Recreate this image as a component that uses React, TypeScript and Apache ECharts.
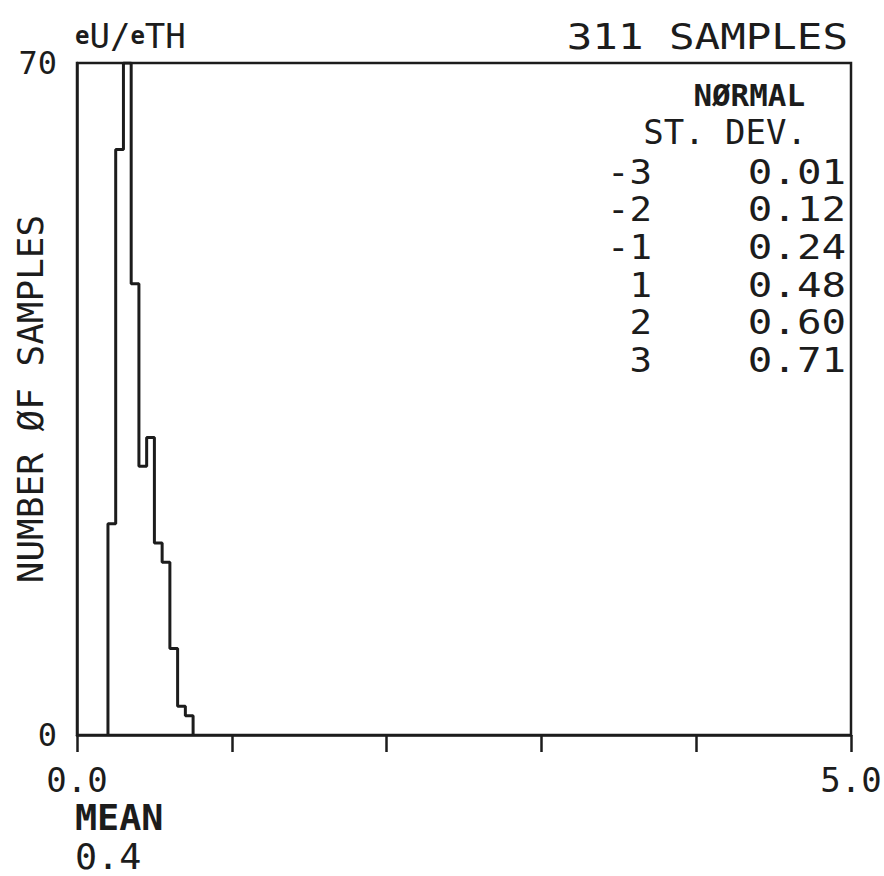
import React, { useEffect, useRef } from "react";
import * as echarts from "echarts";

// Histogram data (eU/eTH ratio, 311 samples)
const binLefts = [0.2, 0.25, 0.3, 0.35, 0.4, 0.45, 0.5, 0.55, 0.6, 0.65, 0.7];
const binWidth = 0.05;
const counts = [22, 61, 70, 47, 28, 31, 20, 18, 9, 3, 2];

const xTickLabels = ["0.0", "5.0"];
const sdLevels = ["-3", "-2", "-1", "1", "2", "3"];
const sdValues = ["0.01", "0.12", "0.24", "0.48", "0.60", "0.71"];

const INK = "#1c1c1c";
const FONT = "DejaVu Sans Mono";

export default function App() {
  const ref = useRef<HTMLDivElement>(null);
  useEffect(() => {
    if (!ref.current) return;
    const chart = echarts.init(ref.current, null, { renderer: "svg" });

    const pts: number[][] = [];
    pts.push([binLefts[0], 0]);
    binLefts.forEach((l, i) => {
      pts.push([l, counts[i]]);
      pts.push([+(l + binWidth).toFixed(3), counts[i]]);
    });
    pts.push([+(binLefts[binLefts.length - 1] + binWidth).toFixed(3), 0]);

    const txt = (
      text: string,
      x: number,
      y: number,
      size: number,
      align: string,
      scaleX = 1,
      weight: string = "normal"
    ) => ({
      type: "text",
      x,
      y,
      scaleX,
      style: {
        text,
        fontSize: size,
        fontFamily: FONT,
        fontWeight: weight,
        fill: INK,
        textAlign: align,
        textVerticalAlign: "middle",
      },
    });

    const graphics: any[] = [
      {
        type: "text",
        x: 75,
        y: 36,
        scaleX: 1.0,
        style: {
          text: "{s|e}U/{s|e}TH",
          rich: {
            s: { fontSize: 24, fontFamily: FONT, fill: INK, fontWeight: "bold" },
          },
          fontSize: 34,
          fontFamily: FONT,
          fill: INK,
          textAlign: "left",
          textVerticalAlign: "middle",
        },
      },
      txt("311 SAMPLES", 848, 36, 36, "right", 1.18),
      txt("NØRMAL", 805, 96, 30, "right", 1.03, "bold"),
      txt("ST. DEV.", 807, 132, 34, "right", 1.0),
      txt("MEAN", 75, 818, 35, "left", 1.05, "bold"),
      txt("0.4", 75, 857, 35, "left", 1.05),
    ];
    sdLevels.forEach((lv, i) => {
      const y = 172 + i * 37.6;
      graphics.push(txt(lv, 652, y, 34, "right", 1.1));
      graphics.push(txt(sdValues[i], 846, y, 34, "right", 1.2));
    });

    chart.setOption({
      animation: false,
      backgroundColor: "#ffffff",
      grid: {
        left: 77,
        right: 33,
        top: 63,
        bottom: 141,
        containLabel: false,
        outerBoundsMode: "none",
        show: true,
        borderColor: INK,
        borderWidth: 2.5,
        backgroundColor: "transparent",
      },
      xAxis: {
        type: "value",
        min: 0,
        max: 5,
        interval: 1,
        axisLine: { show: true, onZero: false, lineStyle: { color: INK, width: 2.5 } },
        axisTick: { show: true, inside: false, length: 17, lineStyle: { color: INK, width: 2.5 } },
        axisLabel: {
          formatter: (v: number) =>
            v === 0 ? xTickLabels[0] : v === 5 ? xTickLabels[1] : "",
          fontSize: 34,
          fontFamily: FONT,
          color: INK,
          margin: 28,
          showMinLabel: true,
          showMaxLabel: true,
        },
        splitLine: { show: false },
      },
      yAxis: {
        type: "value",
        min: 0,
        max: 70,
        interval: 70,
        name: "NUMBER ØF SAMPLES",
        nameLocation: "middle",
        nameRotate: 90,
        nameGap: 29,
        nameMoveOverlap: false,
        nameTextStyle: { fontSize: 36, fontFamily: FONT, color: INK },
        axisLine: { show: true, lineStyle: { color: INK, width: 2.5 } },
        axisTick: { show: false },
        axisLabel: {
          fontSize: 32,
          fontFamily: FONT,
          color: INK,
          margin: 20,
          showMinLabel: true,
          showMaxLabel: true,
        },
        splitLine: { show: false },
      },
      series: [
        {
          type: "line",
          data: pts,
          showSymbol: false,
          symbol: "none",
          lineStyle: { color: INK, width: 3 },
          clip: true,
        },
      ],
      graphic: graphics,
    });

    return () => chart.dispose();
  }, []);

  return (
    <div
      ref={ref}
      style={{ width: 884, height: 876, position: "absolute", left: 0, top: 0, background: "#fff" }}
    />
  );
}
